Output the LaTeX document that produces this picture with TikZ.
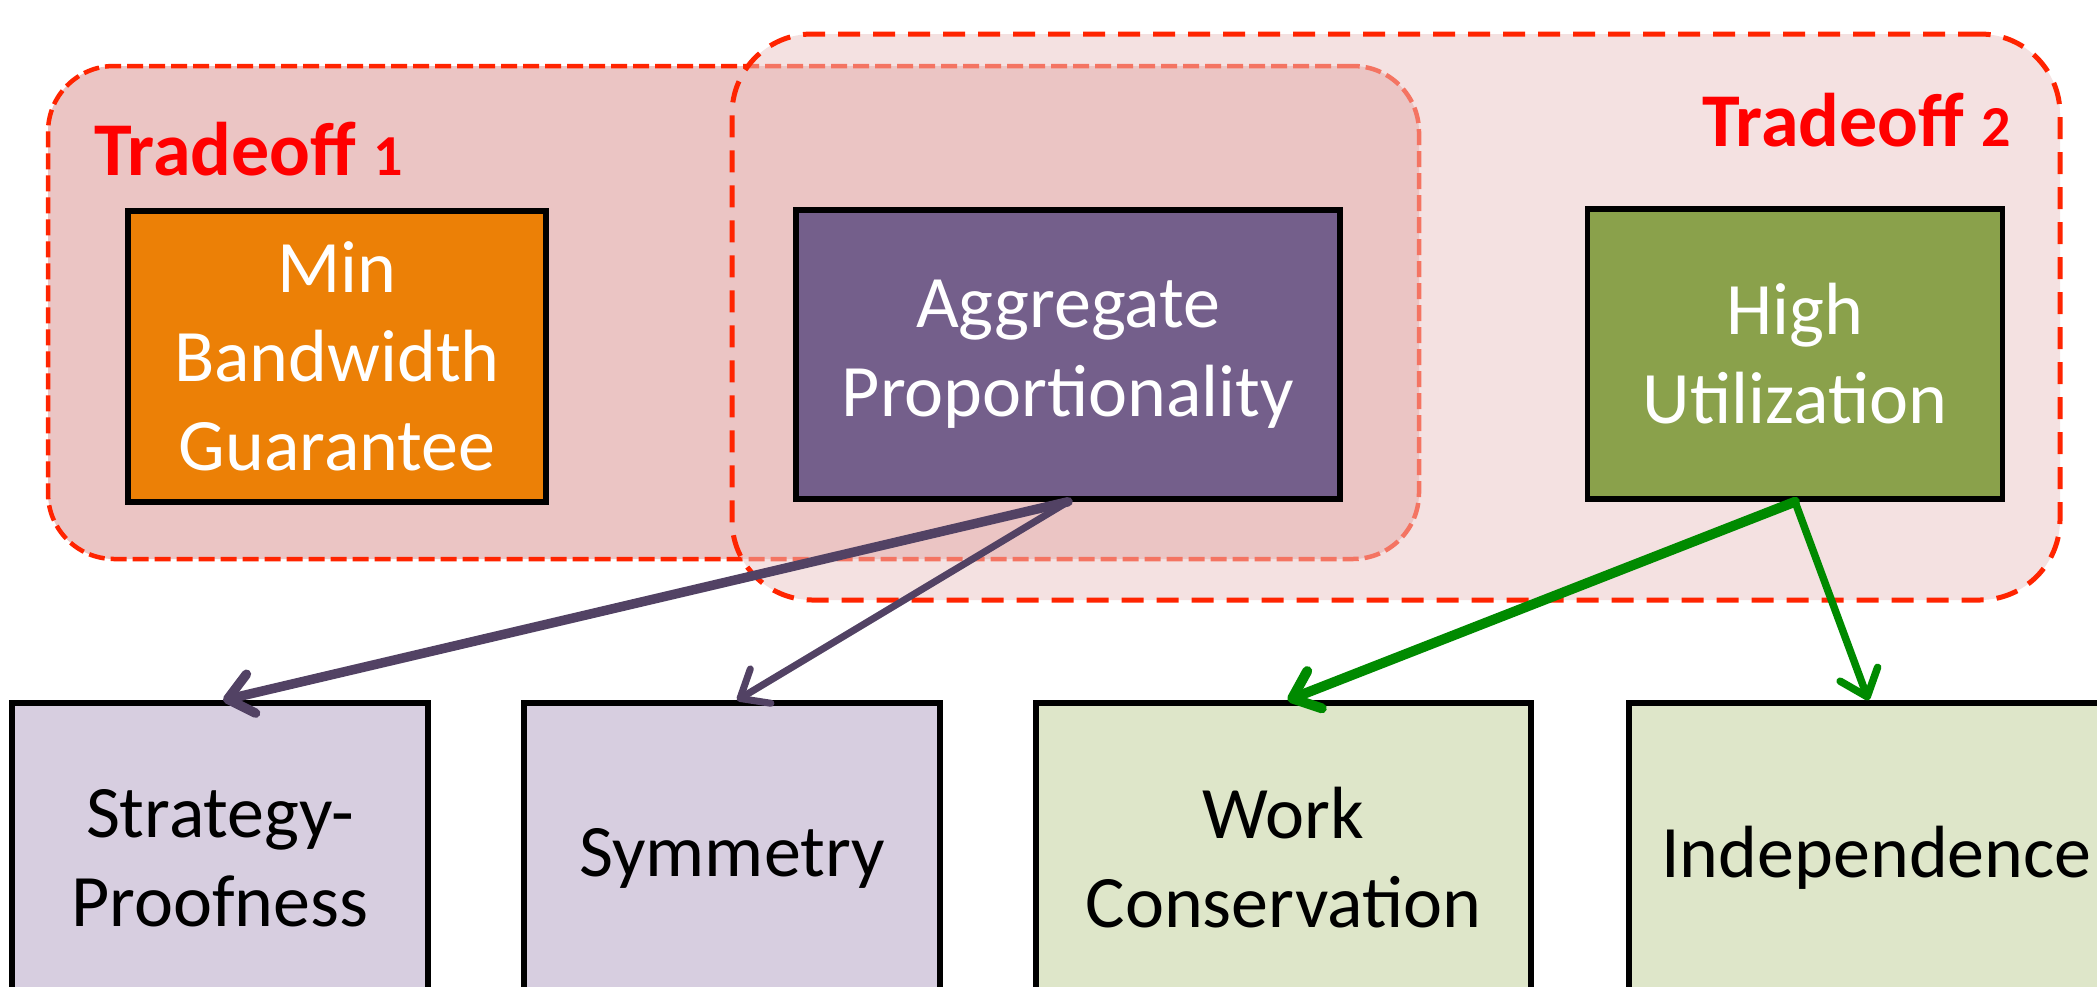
\documentclass[tikz,border=0pt]{standalone}
\usepackage{fontspec}
\setmainfont{Carlito}
\usetikzlibrary{arrows.meta}
\definecolor{tpink}{RGB}{235,197,196}
\definecolor{tred}{RGB}{255,36,0}
\definecolor{lblred}{RGB}{255,0,0}
\definecolor{corange}{RGB}{236,128,6}
\definecolor{cpurple}{RGB}{116,95,139}
\definecolor{cgreen}{RGB}{138,161,75}
\definecolor{lpurple}{RGB}{215,206,224}
\definecolor{lgreen}{RGB}{222,230,201}
\definecolor{apurple}{RGB}{82,66,100}
\definecolor{agreen}{RGB}{0,138,0}
\newcommand{\smalldigit}[1]{{\fontsize{58}{70}\selectfont #1}}
\tikzset{
  grp1/.style={draw=tred, fill=tpink, line width=4.5pt, dash pattern=on 16pt off 6pt, rounded corners=66pt, inner sep=0pt},
  grp2/.style={draw=tred, fill=tpink, fill opacity=0.5, draw opacity=1, line width=5pt, dash pattern=on 22pt off 13pt, rounded corners=80pt, inner sep=0pt},
  grplabel/.style={text=lblred, font={\fontsize{76}{90}\bfseries\selectfont}, inner sep=0pt},
  box/.style={draw=black, line width=5.5pt, inner sep=0pt, align=center, font={\fontsize{74}{89}\selectfont}},
  topbox/.style={box, text=white},
  botbox/.style={box, text=black},
  arr/.style={-{Straight Barb[length=24pt, width=40pt, round]}, line cap=round, line join=round},
}
\begin{document}
\begin{tikzpicture}[x=1pt, y=-1pt]
\useasboundingbox (0,0) rectangle (2097,986);
\fill[white] (0,0) rectangle (2097,986);
% tradeoff groups
\node[grp1, minimum width=1371pt, minimum height=493pt] (t1) at (733.5,312.5) {};
\node[grp2, minimum width=1328pt, minimum height=566pt] (t2) at (1396,317) {};
\node[grplabel, anchor=base west] (l1) at (94,175) {Tradeoff \smalldigit{1}};
\node[grplabel, anchor=base east] (l2) at (2011,146) {Tradeoff \smalldigit{2}};
% top boxes
\node[topbox, fill=corange, minimum width=418pt, minimum height=291pt] (min) at (337,356.5) {Min\\Bandwidth\\Guarantee};
\node[topbox, fill=cpurple, minimum width=544pt, minimum height=289pt] (agg) at (1068,354.5) {Aggregate\\Proportionality};
\node[topbox, fill=cgreen, minimum width=415pt, minimum height=290pt] (high) at (1795,354) {High\\Utilization};
% bottom boxes
\node[botbox, fill=lpurple, minimum width=416pt, minimum height=310pt] (sp) at (220,858) {Strategy-\\Proofness};
\node[botbox, fill=lpurple, minimum width=416pt, minimum height=310pt] (sym) at (732,858) {Symmetry};
\node[botbox, fill=lgreen, minimum width=495pt, minimum height=310pt] (wc) at (1283.5,858) {Work\\Conservation};
\node[botbox, fill=lgreen, minimum width=495pt, minimum height=310pt] (ind) at (1876.5,858) {Independence};
% arrows
\draw[arr, draw=apurple, line width=9.5pt] (agg.south) -- ([xshift=3pt]sp.north);
\draw[arr, draw=apurple, line width=7pt] (agg.south) -- ([xshift=5pt]sym.north);
\draw[arr, draw=agreen, line width=10pt] (high.south) -- ([xshift=4pt]wc.north);
\draw[arr, draw=agreen, line width=7.5pt] (high.south) -- ([xshift=-8pt]ind.north);
\end{tikzpicture}
\end{document}
